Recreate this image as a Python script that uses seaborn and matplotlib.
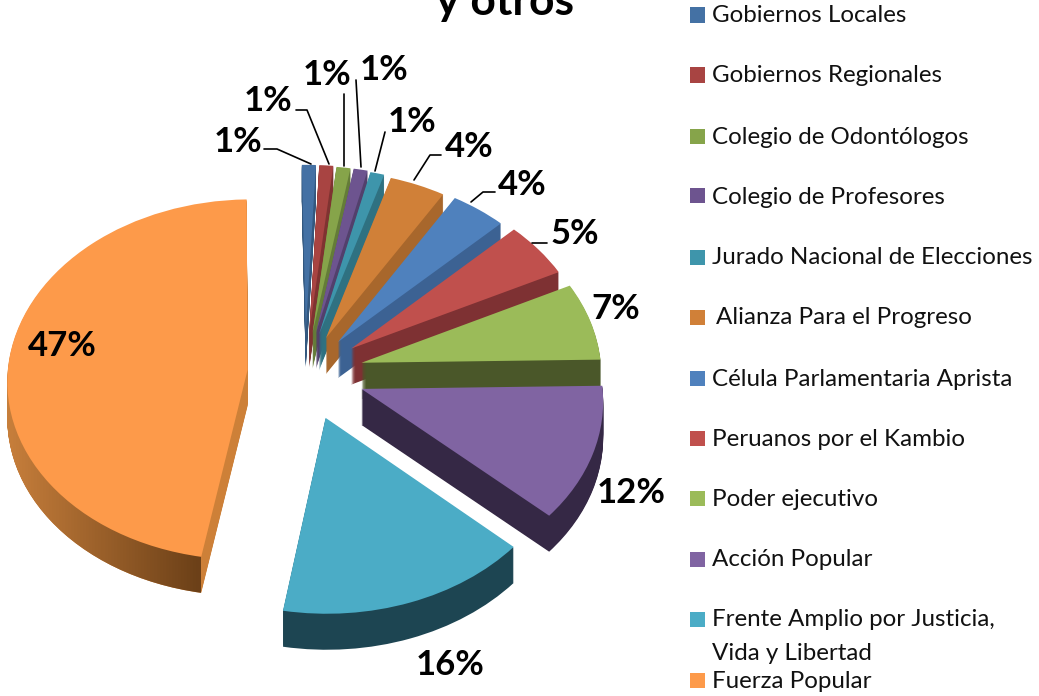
import numpy as np
import matplotlib
matplotlib.use("Agg")
import matplotlib.pyplot as plt
import seaborn as sns
from matplotlib.lines import Line2D
from matplotlib.patches import Rectangle
from matplotlib.path import Path
from matplotlib.transforms import Affine2D, Transform

W, H = 1039, 696

categories = ["Gobiernos Locales", "Gobiernos Regionales", "Colegio de Odontólogos",
              "Colegio de Profesores", "Jurado Nacional de Elecciones", "Alianza Para el Progreso",
              "Célula Parlamentaria Aprista", "Peruanos por el Kambio", "Poder ejecutivo",
              "Acción Popular", "Frente Amplio por Justicia,\nVida y Libertad", "Fuerza Popular"]
values = [1, 1, 1, 1, 1, 4, 4, 5, 7, 12, 16, 47]
pct_labels = ["1%", "1%", "1%", "1%", "1%", "4%", "4%", "5%", "7%", "12%", "16%", "47%"]

top_colors = ["#4471a4", "#a84442", "#86a44a", "#6d548f", "#3e95ab", "#d08038",
              "#4f81bd", "#c0504d", "#9bbb59", "#8064a2", "#4bacc6", "#fd9a4a"]
side_colors = ["#33587f", "#7f3331", "#647c38", "#52406c", "#2f7181", "#a8672c",
               "#3c6293", "#7e3133", "#4a5729", "#352845", "#1d4552", "#cd8038"]

explode = [.235, .235, .23, .23, .224, .215, .222, .237, .243, .25, .26, .24]

# px positions for the text, legend and leader lines
label_xy = [(238, 142), (268, 101), (327, 75), (384, 70), (412, 122), (469, 147),
            (522, 185), (575, 234), (616, 309), (631, 493), (450, 665), (62, 346)]
legend_y = [16, 76, 137, 197, 258, 318, 379, 439, 499, 560, 620, 681]
leaders = [[(264, 149), (277, 149), (311, 164)],
           [(296, 110), (307, 110), (329, 164)],
           [(344, 94), (344, 166)],
           [(356, 80), (361, 167)],
           [(385, 132), (375, 171)],
           [(441, 155), (430, 155), (414, 180)],
           [(495, 192), (483, 192), (471, 202)],
           [(547, 243), (532, 243)]]

cx, cy = 305, 373
sx, sy = 240, 180
depth_px = 36
K = .055


class Perspective(Transform):
  # back of the pie shrinks, front grows
  input_dims = 2
  output_dims = 2

  def transform_non_affine(self, xy):
    w = 1 + K * xy[:, 1]
    return np.column_stack([xy[:, 0] / w, xy[:, 1] / w])


sns.set_theme(style="white")
plt.rcParams["font.family"] = ["Lato", "DejaVu Sans"]

fig = plt.figure(figsize=(W / 100, H / 100), dpi=100)
ax = fig.add_axes([0, 0, 1, 1])
persp = Perspective()


def draw_pie(colors, drop, z):
  wedges, _ = ax.pie(values, explode=explode, colors=colors, startangle=91, counterclock=False,
                     wedgeprops={"linewidth": 0})
  shift = Affine2D().translate(0, -drop)
  for i, w in enumerate(wedges):
    w.set_transform(persp + shift + ax.transData)
    w.set_zorder(i + z)
  return wedges


# depth of the pie, one pixel at a time
outer = []
for d in range(depth_px, 0, -1):
  layer = draw_pie(side_colors, d / sy, .1)
  outer.append(persp.transform_path(layer[-1].get_path()).transformed(Affine2D().translate(0, -d / sy)))
draw_pie(top_colors, 0, .5)

# shaded rim of the big slice
rim = np.linspace([200, 128, 60], [108, 64, 24], 64).astype(np.uint8)[np.newaxis, :, :]
im = ax.imshow(rim, extent=[(5 - cx) / sx, (200 - cx) / sx, (cy - 600) / sy, (cy - 380) / sy],
               interpolation="bilinear", aspect="auto", zorder=11.2)
im.set_clip_path(Path.make_compound_path(*outer), ax.transData)

ax.set_aspect("auto")
ax.set_xlim(-cx / sx, (W - cx) / sx)
ax.set_ylim((cy - H) / sy, cy / sy)
ax.axis("off")


def fx(x):
  return x / W


def fy(y):
  return 1 - y / H


for lab, (x, y) in zip(pct_labels, label_xy):
  fig.text(fx(x), fy(y), lab, fontsize=25, fontweight="bold", color="black", ha="center", va="center", zorder=30)

for pts in leaders:
  fig.add_artist(Line2D([fx(p[0]) for p in pts], [fy(p[1]) for p in pts], color="black", lw=1.2))

for i, (name, y) in enumerate(zip(categories, legend_y)):
  fig.add_artist(Rectangle((fx(690), fy(y + 6.5)), 15 / W, 15 / H, color=top_colors[i], lw=0))
  if "\n" in name:
    first, second = name.split("\n")
    fig.text(fx(712), fy(y), first, fontsize=17.4, color="#111111", va="center")
    fig.text(fx(712), fy(y + 33), second, fontsize=17.4, color="#111111", va="center")
  else:
    fig.text(fx(716 if i == 5 else 712), fy(y), name, fontsize=17.4, color="#111111", va="center")

fig.text(fx(505), fy(15), "y otros", fontsize=32, fontweight="bold", color="black", ha="center", va="baseline")

fig.savefig("out.png", dpi=100)
